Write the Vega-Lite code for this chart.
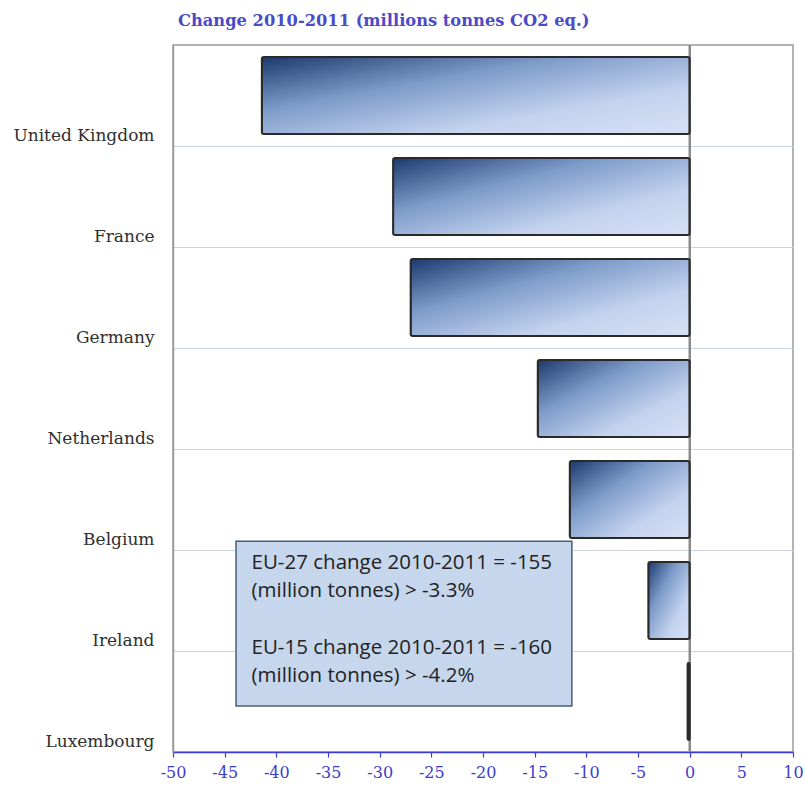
{
  "$schema": "https://vega.github.io/schema/vega-lite/v6.json",
  "width": 620,
  "height": 707,
  "autosize": "none",
  "padding": {"left": 173, "top": 45, "right": 12, "bottom": 39},
  "background": "white",
  "config": {"view": {"stroke": "#9a9a9a", "strokeWidth": 1.5}},
  "title": {
    "text": "Change 2010-2011 (millions tonnes CO2 eq.)",
    "anchor": "start",
    "frame": "group",
    "dx": 5,
    "offset": 15,
    "font": "DejaVu Serif",
    "fontSize": 16.3,
    "fontWeight": "bold",
    "color": "#4b4bc8"
  },
  "data": {
    "values": [
      {"country": "United Kingdom", "change": -41.4},
      {"country": "France", "change": -28.7},
      {"country": "Germany", "change": -27.0},
      {"country": "Netherlands", "change": -14.7},
      {"country": "Belgium", "change": -11.6},
      {"country": "Ireland", "change": -4.0},
      {"country": "Luxembourg", "change": -0.2}
    ]
  },
  "resolve": {"scale": {"y": "independent"}, "axis": {"y": "independent"}},
  "layer": [
    {
      "mark": {"type": "rule", "color": "#8a8a8a", "strokeWidth": 1.5},
      "encoding": {"x": {"datum": 0, "type": "quantitative", "scale": {"domain": [-50, 10], "nice": false, "zero": false}}}
    },
    {
      "mark": {
        "type": "bar",
        "stroke": "#2a2a2a",
        "strokeWidth": 2,
        "cornerRadius": 2,
        "color": {
          "gradient": "linear",
          "x1": 0, "y1": 0, "x2": 1, "y2": 1,
          "stops": [
            {"offset": 0, "color": "#1d3a6e"},
            {"offset": 0.35, "color": "#7d9bc9"},
            {"offset": 0.7, "color": "#c3d2ee"},
            {"offset": 1, "color": "#d6e1f5"}
          ]
        }
      },
      "encoding": {
        "x": {
          "field": "change",
          "type": "quantitative",
          "scale": {"domain": [-50, 10], "nice": false, "zero": false},
          "axis": {
            "title": null,
            "values": [-50, -45, -40, -35, -30, -25, -20, -15, -10, -5, 0, 5, 10],
            "labelExpr": "datum.value < 0 ? '-' + abs(datum.value) : '' + datum.value",
            "grid": false,
            "domainColor": "#3b3bdc",
            "domainWidth": 1.5,
            "tickColor": "#3b3bdc",
            "tickSize": 5,
            "tickWidth": 1.2,
            "labelFont": "DejaVu Serif",
            "labelFontSize": 16,
            "labelColor": "#3c3cd0",
            "labelPadding": 7,
            "labelFlush": false
          }
        },
        "y": {
          "field": "country",
          "type": "nominal",
          "sort": null,
          "scale": {"paddingInner": 0.24, "paddingOuter": 0.12},
          "axis": {
            "title": null,
            "bandPosition": 1.158,
            "grid": true,
            "gridColor": "#c8d4e6",
            "gridWidth": 1.2,
            "domainColor": "#9a9a9a",
            "domainWidth": 1.5,
            "ticks": false,
            "labelFont": "DejaVu Serif",
            "labelFontSize": 17,
            "labelColor": "#2f2f2f",
            "labelPadding": 19,
            "labelBaseline": "middle",
            "labelOffset": 40
          }
        }
      }
    },
    {
      "data": {"values": [{}]},
      "mark": {"type": "rect", "fill": "#c6d6ec", "stroke": "#4d5d72", "strokeWidth": 1.5},
      "encoding": {
        "x": {"datum": -43.9, "type": "quantitative"},
        "x2": {"datum": -11.4},
        "y": {"datum": 0.298, "type": "quantitative", "scale": {"domain": [0, 1], "nice": false, "zero": false}, "axis": null},
        "y2": {"datum": 0.065}
      }
    },
    {
      "data": {"values": [{}]},
      "mark": {
        "type": "text",
        "align": "left",
        "baseline": "middle",
        "font": "Open Sans",
        "fontSize": 20.5,
        "color": "#222222",
        "lineHeight": 28.2
      },
      "encoding": {
        "x": {"datum": -42.4, "type": "quantitative"},
        "y": {"datum": 0.267, "type": "quantitative", "scale": {"domain": [0, 1], "nice": false, "zero": false}, "axis": null},
        "text": {"value": ["EU-27 change 2010-2011 = -155", "(million tonnes) > -3.3%"]}
      }
    },
    {
      "data": {"values": [{}]},
      "mark": {
        "type": "text",
        "align": "left",
        "baseline": "middle",
        "font": "Open Sans",
        "fontSize": 20.5,
        "color": "#222222",
        "lineHeight": 28.2
      },
      "encoding": {
        "x": {"datum": -42.4, "type": "quantitative"},
        "y": {"datum": 0.147, "type": "quantitative", "scale": {"domain": [0, 1], "nice": false, "zero": false}, "axis": null},
        "text": {"value": ["EU-15 change 2010-2011 = -160", "(million tonnes) > -4.2%"]}
      }
    }
  ]
}
